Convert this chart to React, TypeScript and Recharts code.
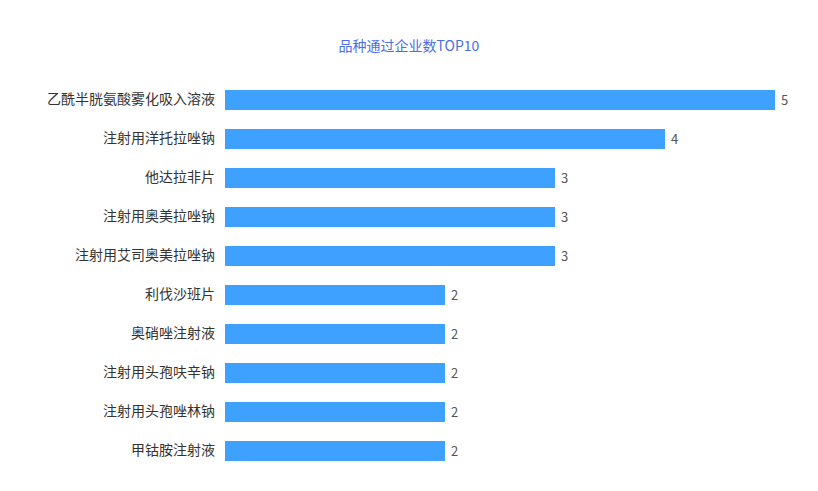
import React from 'react';
import { BarChart, Bar, XAxis, YAxis, LabelList } from 'recharts';

const drugNames = [
  '乙酰半胱氨酸雾化吸入溶液',
  '注射用洋托拉唑钠',
  '他达拉非片',
  '注射用奥美拉唑钠',
  '注射用艾司奥美拉唑钠',
  '利伐沙班片',
  '奥硝唑注射液',
  '注射用头孢呋辛钠',
  '注射用头孢唑林钠',
  '甲钴胺注射液',
];
const companyCounts = [5, 4, 3, 3, 3, 2, 2, 2, 2, 2];
const chartTitle = '品种通过企业数TOP10';

const data = drugNames.map((name, i) => ({ name, count: companyCounts[i] }));

const FONT = '"Noto Sans CJK SC", "Microsoft YaHei", sans-serif';

export default function App() {
  return (
    <div
      style={{
        position: 'absolute',
        left: 0,
        top: 0,
        width: 818,
        height: 491,
        background: '#fff',
        fontFamily: FONT,
      }}
    >
      <div
        style={{
          position: 'absolute',
          top: 35,
          left: 0,
          width: 818,
          textAlign: 'center',
          fontSize: 14,
          color: '#4a6ee8',
          lineHeight: '20px',
        }}
      >
        {chartTitle}
      </div>
      <BarChart
        width={818}
        height={491}
        data={data}
        layout="vertical"
        margin={{ top: 80, right: 43, bottom: 21, left: 0 }}
        barSize={20}
      >
        <XAxis type="number" domain={[0, 5]} hide />
        <YAxis
          type="category"
          dataKey="name"
          width={225}
          axisLine={false}
          tickLine={false}
          tickMargin={4}
          tick={{ fill: '#333', fontSize: 14, fontFamily: FONT }}
        />
        <Bar dataKey="count" fill="#3fa1ff" isAnimationActive={false}>
          <LabelList
            dataKey="count"
            position="right"
            offset={6}
            style={{ fill: '#555', fontSize: 13, fontFamily: FONT }}
          />
        </Bar>
      </BarChart>
    </div>
  );
}
